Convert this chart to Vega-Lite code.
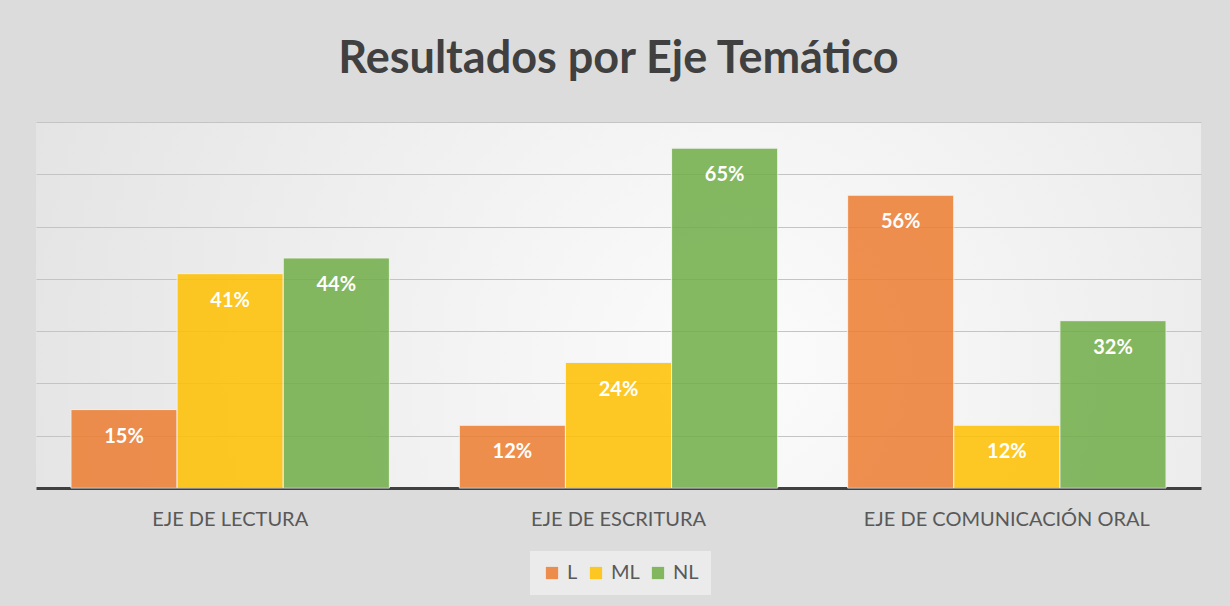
{
  "$schema": "https://vega.github.io/schema/vega-lite/v6.json",
  "width": 1165,
  "height": 366,
  "autosize": {"type": "none"},
  "padding": {"left": 36, "top": 122, "right": 29, "bottom": 118},
  "background": "#dcdcdc",
  "title": {
    "text": "Resultados por Eje Temático",
    "font": "Lato",
    "fontSize": 45,
    "fontWeight": "bold",
    "color": "#404040",
    "anchor": "middle",
    "offset": 40
  },
  "data": {
    "values": [
      {"eje": "EJE DE LECTURA", "nivel": "L", "valor": 0.15},
      {"eje": "EJE DE LECTURA", "nivel": "ML", "valor": 0.41},
      {"eje": "EJE DE LECTURA", "nivel": "NL", "valor": 0.44},
      {"eje": "EJE DE ESCRITURA", "nivel": "L", "valor": 0.12},
      {"eje": "EJE DE ESCRITURA", "nivel": "ML", "valor": 0.24},
      {"eje": "EJE DE ESCRITURA", "nivel": "NL", "valor": 0.65},
      {"eje": "EJE DE COMUNICACIÓN ORAL", "nivel": "L", "valor": 0.56},
      {"eje": "EJE DE COMUNICACIÓN ORAL", "nivel": "ML", "valor": 0.12},
      {"eje": "EJE DE COMUNICACIÓN ORAL", "nivel": "NL", "valor": 0.32}
    ]
  },
  "encoding": {
    "x": {
      "field": "eje",
      "type": "nominal",
      "sort": null,
      "scale": {"paddingInner": 0.18, "paddingOuter": 0.09},
      "axis": {
        "title": null,
        "labelAngle": 0,
        "labelFont": "Lato",
        "labelFontSize": 20,
        "labelColor": "#595959",
        "labelPadding": 21,
        "labelLimit": 0,
        "ticks": false,
        "domainColor": "#404040",
        "domainWidth": 3
      }
    },
    "xOffset": {"field": "nivel", "type": "nominal", "sort": ["L", "ML", "NL"], "scale": {"paddingInner": 0, "paddingOuter": 0}},
    "y": {
      "field": "valor",
      "type": "quantitative",
      "scale": {"domain": [0, 0.7], "nice": false},
      "axis": {
        "title": null,
        "labels": false,
        "ticks": false,
        "domain": false,
        "values": [0.1, 0.2, 0.3, 0.4, 0.5, 0.6, 0.7],
        "gridColor": "#c4c4c4",
        "gridWidth": 1.2
      }
    }
  },
  "layer": [
    {
      "mark": {"type": "bar", "opacity": 0.85, "stroke": "#f2f2f2", "strokeWidth": 1},
      "encoding": {
        "color": {
          "field": "nivel",
          "type": "nominal",
          "sort": ["L", "ML", "NL"],
          "scale": {"domain": ["L", "ML", "NL"], "range": ["#ED7D31", "#FFC000", "#70AD47"]},
          "legend": {
            "title": null,
            "orient": "none",
            "legendX": 494,
            "legendY": 429,
            "direction": "horizontal",
            "symbolType": "square",
            "symbolSize": 150,
            "symbolStrokeWidth": 0,
            "symbolOpacity": 0.85,
            "labelFont": "Lato",
            "labelFontSize": 20,
            "labelColor": "#595959",
            "columnPadding": 8,
            "labelOffset": 5,
            "fillColor": "#ebebeb",
            "padding": 12
          }
        }
      }
    },
    {
      "mark": {"type": "text", "color": "white", "font": "Lato", "fontWeight": "bold", "fontSize": 20, "baseline": "middle", "dy": 27},
      "encoding": {
        "text": {"field": "valor", "type": "quantitative", "format": ".0%"},
        "detail": {"field": "nivel"}
      }
    }
  ],
  "config": {
    "view": {
      "stroke": null,
      "fill": {
        "gradient": "radial",
        "x1": 0.6, "y1": 0.55, "r1": 0,
        "x2": 0.6, "y2": 0.55, "r2": 0.85,
        "stops": [
          {"offset": 0, "color": "#fcfcfc"},
          {"offset": 1, "color": "#dcdcdc"}
        ]
      }
    }
  }
}
